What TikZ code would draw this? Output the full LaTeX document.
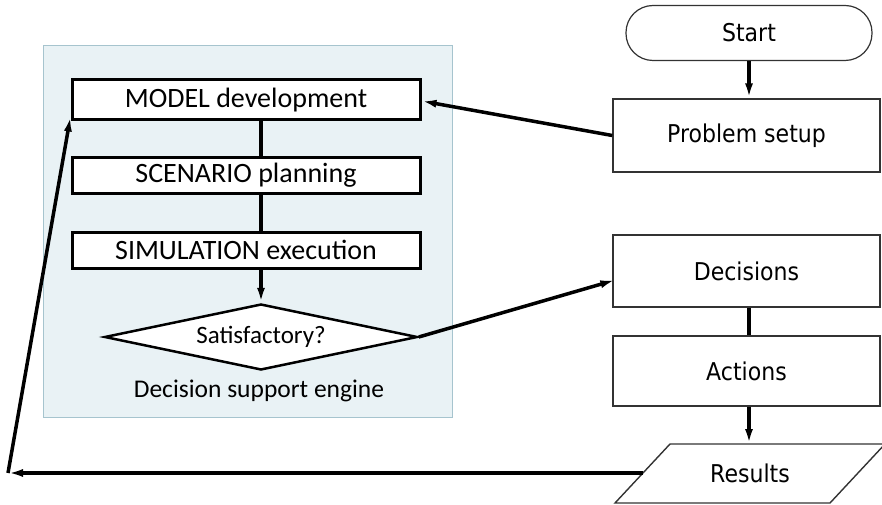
\documentclass[tikz,border=0pt]{standalone}
\usepackage{fontspec}
\setmainfont{Carlito}
\newfontfamily\rfont[FakeStretch=0.9]{DejaVu Sans}
\usetikzlibrary{arrows.meta,shapes.geometric,calc}
\definecolor{enginefill}{HTML}{E9F2F5}
\definecolor{engineline}{HTML}{A6C4CE}
\definecolor{boxline}{HTML}{333333}
\begin{document}
\begin{tikzpicture}[x=1pt,y=-1pt,
  stage/.style={draw=black,line width=3pt,fill=white,inner sep=0pt,
    minimum width=348pt,font=\fontsize{28}{32}\selectfont},
  flowbox/.style={draw=boxline,line width=1.4pt,fill=white,inner sep=0pt,
    minimum width=267pt,font=\rfont\fontsize{24.5}{30}\selectfont},
  link/.style={line width=3.5pt},
  flow/.style={line width=3.5pt,-{Latex[length=15pt,width=8pt]}},
]
\useasboundingbox (0,0) rectangle (882,505);

% decision support engine panel
\draw[fill=enginefill,draw=engineline,line width=1pt] (43,46) rectangle (452,417);
\node[font=\fontsize{25.5}{30}\selectfont] (engine) at (259,391) {Decision support engine};

\node[stage,minimum height=40pt] (model) at (246,100) {MODEL development};
\node[stage,minimum height=35pt] (scen) at (246,175.5) {SCENARIO planning};
\node[stage,minimum height=36pt] (sim) at (246,250) {SIMULATION execution};
\node[diamond,draw=black,line width=2.5pt,fill=white,inner sep=0pt,
  minimum width=313pt,minimum height=66pt,aspect=4.7,
  font=\fontsize{25}{30}\selectfont] (dia) at (261,337) {Satisfactory?};

% main flow on the right
\node[draw=boxline,line width=1.2pt,fill=white,rounded corners=27pt,
  minimum width=246pt,minimum height=55pt,inner sep=0pt,
  font=\rfont\fontsize{24.5}{30}\selectfont] (start) at (749,33) {Start};
\node[flowbox,minimum height=73pt] (setup) at (746.5,135.5) {Problem setup};
\node[flowbox,minimum height=72pt] (dec) at (746.5,271) {Decisions};
\node[flowbox,minimum height=70pt] (act) at (746.5,371) {Actions};

% results: parallelogram drawn as a path
\coordinate (rbl) at (615,503);
\coordinate (rbr) at (830,503);
\coordinate (rtr) at (885,444);
\coordinate (rtl) at (670,444);
\draw[draw=boxline,line width=1.4pt,fill=white] (rbl) -- (rbr) -- (rtr) -- (rtl) -- cycle;
\node[font=\rfont\fontsize{24.5}{30}\selectfont] (res) at (750,473) {Results};
\coordinate (rtop) at (749,444);
\coordinate (rleft) at (643,473);
\coordinate (corner) at (8,473);

% connectors
\draw[link] (model.south -| dia.north) -- (scen.north -| dia.north);
\draw[link] (scen.south -| dia.north) -- (sim.north -| dia.north);
\draw[flow] (sim.south -| dia.north) -- (dia.north);
\draw[flow] (start.south -| rtop) -- (setup.north -| rtop);
\draw[flow] (setup.west) -- ([yshift=-1pt]model.east);
\draw[flow] (dia.east) -- ([xshift=3pt,yshift=-9pt]dec.west);
\draw[link] (dec.south -| rtop) -- (act.north -| rtop);
\draw[flow] (act.south -| rtop) -- (rtop);
\draw[flow] (rleft) -- (corner);
\draw[flow] (corner) -- ([yshift=5pt]model.south west);
\end{tikzpicture}
\end{document}
